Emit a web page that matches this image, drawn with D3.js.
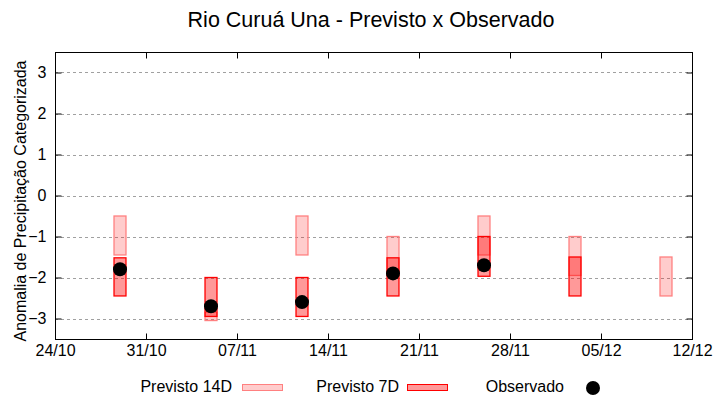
<!DOCTYPE html>
<html><head><meta charset="utf-8">
<script src="https://cdn.jsdelivr.net/npm/d3@7"></script>
<style>body{margin:0;background:#fff}svg{display:block;font-family:"Liberation Sans",Arial,sans-serif}</style>
</head><body><svg id="c" width="720" height="400"></svg>
<script>
const dates = ["2023-10-29","2023-11-05","2023-11-12","2023-11-19","2023-11-26","2023-12-03","2023-12-10"];
const p14Top = [-0.5, -2.85, -0.5, -1.0, -0.5, -1.0, -1.5];
const p14Bot = [-1.45, -3.05, -1.45, -1.95, -1.45, -1.95, -2.45];
const p7Top = [-1.52, -2.0, -2.0, -1.52, -1.0, -1.5, null];
const p7Bot = [-2.45, -2.95, -2.95, -2.45, -1.97, -2.45, null];
const obs = [-1.8, -2.7, -2.6, -1.9, -1.7, null, null];
const xTickDates = ["2023-10-24","2023-10-31","2023-11-07","2023-11-14","2023-11-21","2023-11-28","2023-12-05","2023-12-12"];
const yTicks = [-3,-2,-1,0,1,2,3];

const svg = d3.select("#c");
const L=55,R=692,T=52,B=339;
const parse = d3.utcParse("%Y-%m-%d");
const x = d3.scaleUtc().domain([parse("2023-10-24"), parse("2023-12-12")]).range([L,R]);
const y = d3.scaleLinear().domain([-3.5,3.5]).range([B,T]);
const fmt = d3.utcFormat("%d/%m");
const day = 864e5;
const halfW = 0.46*day;

// grid
svg.append("g").selectAll("line").data(yTicks).join("line")
  .attr("x1",L).attr("x2",R).attr("y1",d=>Math.round(y(d))+0.5).attr("y2",d=>Math.round(y(d))+0.5)
  .attr("stroke","#a0a0a0").attr("stroke-width",1).attr("stroke-dasharray","3,3");

const rows = dates.map((d,i)=>({d:parse(d),t14:p14Top[i],b14:p14Bot[i],t7:p7Top[i],b7:p7Bot[i],o:obs[i]}));

svg.append("g").selectAll("rect").data(rows).join("rect")
  .attr("x",r=>x(new Date(+r.d-halfW))).attr("width",r=>x(new Date(+r.d+halfW))-x(new Date(+r.d-halfW)))
  .attr("y",r=>y(r.t14)).attr("height",r=>y(r.b14)-y(r.t14))
  .attr("fill","rgba(255,0,0,0.2)").attr("stroke","#ff8080").attr("stroke-width",1.3);

svg.append("g").selectAll("rect").data(rows.filter(r=>r.t7!==null)).join("rect")
  .attr("x",r=>x(new Date(+r.d-halfW))).attr("width",r=>x(new Date(+r.d+halfW))-x(new Date(+r.d-halfW)))
  .attr("y",r=>y(r.t7)).attr("height",r=>y(r.b7)-y(r.t7))
  .attr("fill","rgba(255,0,0,0.4)").attr("stroke","#ff0000").attr("stroke-width",1.3);

svg.append("g").selectAll("circle").data(rows.filter(r=>r.o!==null)).join("circle")
  .attr("cx",r=>x(r.d)).attr("cy",r=>y(r.o)).attr("r",7).attr("fill","#000");

// frame
svg.append("rect").attr("x",L+0.5).attr("y",T+0.5).attr("width",R-L).attr("height",B-T)
  .attr("fill","none").attr("stroke","#000").attr("stroke-width",1);

// axes
const xt = xTickDates.map(parse);
const ax = d3.axisBottom(x).tickValues(xt).tickFormat(fmt).tickSizeInner(-6).tickSizeOuter(0).tickPadding(5);
const gx = svg.append("g").attr("transform",`translate(0,${B+0.5})`).call(ax);
gx.select(".domain").remove();
gx.selectAll("text").attr("font-size",16).attr("fill","#000").attr("font-family","Liberation Sans, Arial, sans-serif");
const axT = d3.axisTop(x).tickValues(xt).tickFormat("").tickSizeInner(-6).tickSizeOuter(0);
const gxt = svg.append("g").attr("transform",`translate(0,${T+0.5})`).call(axT);
gxt.select(".domain").remove();

const ay = d3.axisLeft(y).tickValues(yTicks).tickFormat(d3.format("d")).tickSizeInner(-6).tickSizeOuter(0).tickPadding(9);
const gy = svg.append("g").attr("transform",`translate(${L+0.5},0)`).call(ay);
gy.select(".domain").remove();
gy.selectAll("text").attr("font-size",16).attr("fill","#000").attr("font-family","Liberation Sans, Arial, sans-serif");
const ayr = d3.axisRight(y).tickValues(yTicks).tickFormat("").tickSizeInner(-6).tickSizeOuter(0);
const gyr = svg.append("g").attr("transform",`translate(${R+0.5},0)`).call(ayr);
gyr.select(".domain").remove();

// title
svg.append("text").attr("x",371).attr("y",27).attr("text-anchor","middle").attr("font-size",21.5).attr("fill","#000")
  .text("Rio Curuá Una - Previsto x Observado");
// y label
svg.append("text").attr("transform","translate(26,201) rotate(-90)").attr("text-anchor","middle").attr("font-size",16).attr("fill","#000")
  .text("Anomalia de Precipitação Categorizada");

// legend
const lg = svg.append("g").attr("font-size",16).attr("fill","#000");
lg.append("text").attr("x",232).attr("y",392).attr("text-anchor","end").text("Previsto 14D");
lg.append("rect").attr("x",242.5).attr("y",384.5).attr("width",40).attr("height",6).attr("fill","rgba(255,0,0,0.2)").attr("stroke","#ff8080");
lg.append("text").attr("x",399).attr("y",392).attr("text-anchor","end").text("Previsto 7D");
lg.append("rect").attr("x",407.5).attr("y",384.5).attr("width",40).attr("height",6).attr("fill","rgba(255,0,0,0.4)").attr("stroke","#ff0000");
lg.append("text").attr("x",564).attr("y",392).attr("text-anchor","end").text("Observado");
lg.append("circle").attr("cx",593).attr("cy",388).attr("r",7).attr("fill","#000");
</script></body></html>
